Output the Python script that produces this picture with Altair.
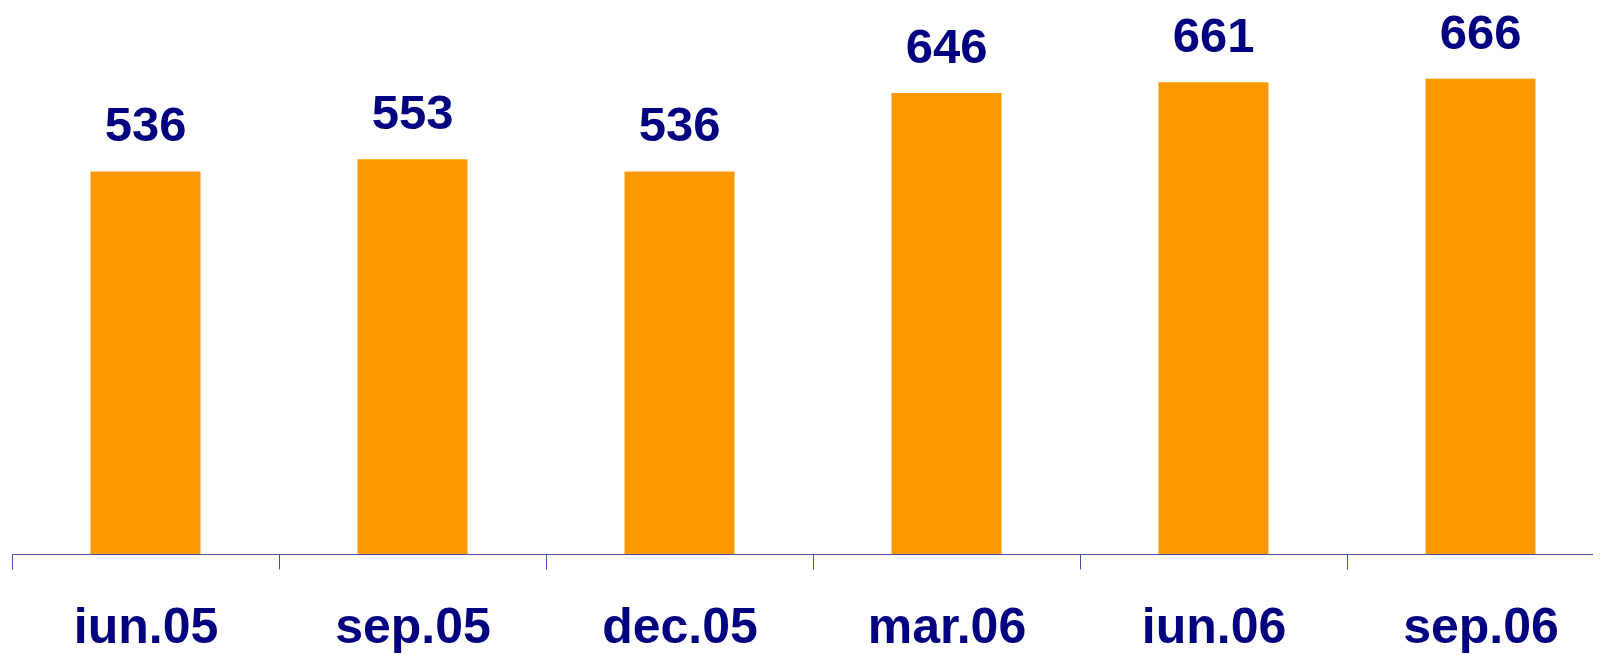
import altair as alt
import pandas as pd

categories = ["iun.05", "sep.05", "dec.05", "mar.06", "iun.06", "sep.06"]
values = [536, 553, 536, 646, 661, 666]

df = pd.DataFrame({"cat": categories, "val": values})

x = alt.X("cat:N", sort=categories, title=None,
          scale=alt.Scale(paddingInner=0, paddingOuter=0, range=[0, 1602]),
          axis=alt.Axis(labelAngle=0, labelFont="Liberation Sans", labelFontSize=50,
                        labelFontWeight="bold", labelColor="#000080",
                        labelBaseline="alphabetic", labelPadding=73,
                        tickBand="extent", tickSize=15, tickColor="#4b4baa", tickWidth=1,
                        domainColor="#4b4baa", domainWidth=1))
y = alt.Y("val:Q", title=None, scale=alt.Scale(domain=[0, 765], nice=False, zero=True),
          axis=None)

bars = alt.Chart(df).mark_bar(color="#FF9900", width=alt.RelativeBandSize(0.412)).encode(x=x, y=y)
labels = alt.Chart(df).mark_text(font="Liberation Sans", fontSize=49, fontWeight="bold",
                                 color="#000080", baseline="alphabetic", dy=-30).encode(
    x=alt.X("cat:N", sort=categories), y="val:Q", text="val:Q")

chart = (bars + labels).properties(
    width=1581, height=546,
    autosize=alt.AutoSizeParams(type="none"),
    padding={"left": 4, "top": 0, "right": 0, "bottom": 101}
).configure_view(stroke=None)

chart.save("out.html", embed_options={"renderer": "svg", "actions": False})
